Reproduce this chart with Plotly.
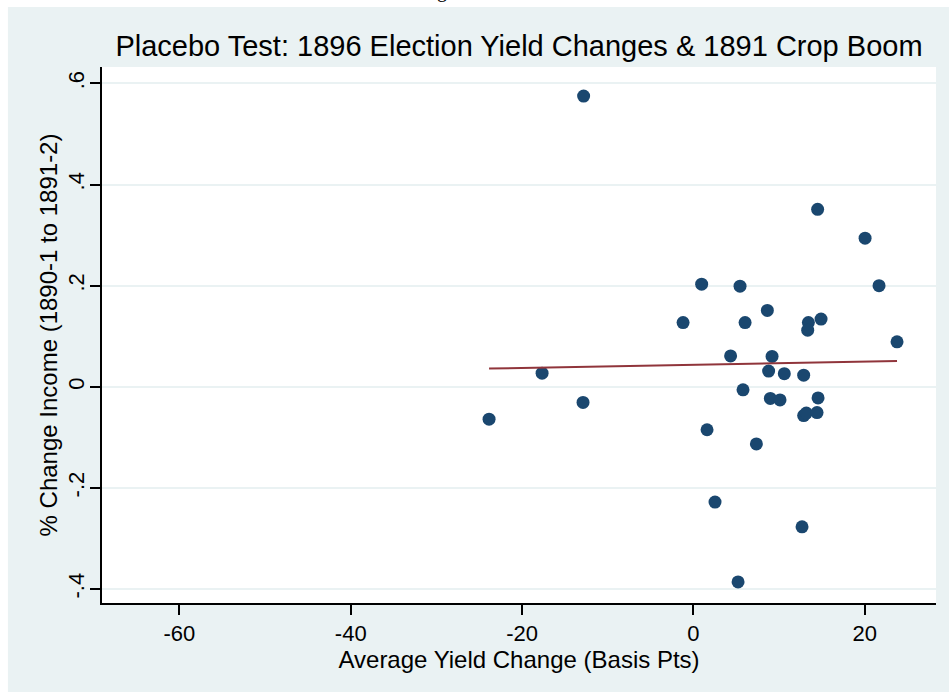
import plotly.graph_objects as go

# Average yield change (basis points) and % change in income, one point per state
yield_change = [
    -12.81, 14.51, 20.05, 0.97, 5.45, 21.68, 8.64, -1.20, 6.04, 13.43, 14.91,
    13.35, 23.78, 4.35, 9.19, -17.66, 8.79, 10.62, 12.88, -12.88, 5.80, 8.99,
    10.12, 14.56, -23.85, 12.88, 13.19, 14.44, 1.60, 7.36, 2.53, 12.69, 5.22,
]
income_change = [
    0.575, 0.351, 0.294, 0.203, 0.199, 0.200, 0.151, 0.127, 0.127, 0.127, 0.134,
    0.112, 0.089, 0.061, 0.060, 0.027, 0.031, 0.026, 0.023, -0.031, -0.006, -0.023,
    -0.026, -0.022, -0.064, -0.057, -0.052, -0.051, -0.085, -0.113, -0.228, -0.277, -0.386,
]

# Linear fit drawn across the observed x range
fit_x = [-23.85, 23.78]
fit_y = [0.036, 0.051]

x_ticks = [-60, -40, -20, 0, 20]
x_tick_labels = ["-60", "-40", "-20", "0", "20"]
y_ticks = [-0.4, -0.2, 0, 0.2, 0.4, 0.6]
y_tick_labels = ["-.4", "-.2", "0", ".2", ".4", ".6"]

TITLE = "Placebo Test: 1896 Election Yield Changes & 1891 Crop Boom"
X_TITLE = "Average Yield Change (Basis Pts)"
Y_TITLE = "% Change Income (1890-1 to 1891-2)"

FONT = "Liberation Sans, Arial, sans-serif"
BG = "#EAF2F3"
NAVY = "#1A476F"
MAROON = "#90353B"

fig = go.Figure()
fig.add_trace(go.Scatter(
    x=yield_change, y=income_change, mode="markers",
    marker=dict(color=NAVY, size=13, line=dict(width=0)),
    showlegend=False, hoverinfo="x+y",
))
fig.add_trace(go.Scatter(
    x=fit_x, y=fit_y, mode="lines",
    line=dict(color=MAROON, width=2),
    showlegend=False, hoverinfo="skip",
))

fig.update_layout(
    width=949, height=692,
    margin=dict(l=102, r=13, t=67, b=89),
    paper_bgcolor=BG,
    plot_bgcolor="white",
    font=dict(family=FONT, color="black"),
    title=dict(text=TITLE, x=0.5, xref="paper", xanchor="center",
               y=1 - 46 / 692, yref="container", yanchor="middle",
               font=dict(size=29, family=FONT, color="black")),
    xaxis=dict(
        range=[-69.04, 28.33], tickvals=x_ticks, ticktext=x_tick_labels,
        ticks="outside", ticklen=10, tickwidth=1.5, tickcolor="black",
        showline=True, linecolor="black", linewidth=1.5,
        showgrid=False, zeroline=False,
        tickfont=dict(size=22, family=FONT, color="black"),
        title=dict(text=X_TITLE, font=dict(size=24, family=FONT, color="black"), standoff=4),
    ),
    yaxis=dict(
        range=[-0.4277, 0.6326], tickvals=y_ticks, ticktext=y_tick_labels,
        tickangle=-90, ticklabelstandoff=-3,
        ticks="outside", ticklen=10, tickwidth=1.5, tickcolor="black",
        showline=True, linecolor="black", linewidth=1.5,
        showgrid=True, gridcolor=BG, gridwidth=1.5, zeroline=False,
        tickfont=dict(size=22, family=FONT, color="black"),
        title=dict(text=Y_TITLE, font=dict(size=24, family=FONT, color="black"), standoff=0),
    ),
    shapes=[
        # white page strip along the top and left edges
        dict(type="rect", xref="paper", yref="paper", x0=-0.2, x1=1.1, y0=1.112, y1=1.4,
             fillcolor="white", line=dict(width=0), layer="above"),
        dict(type="rect", xref="paper", yref="paper", x0=-0.2, x1=-0.1128, y0=-0.3, y1=1.4,
             fillcolor="white", line=dict(width=0), layer="above"),
    ],
    annotations=[
        dict(text="g", xref="paper", yref="paper", x=(442 - 102) / 833.7, y=1.142,
             xanchor="center", yanchor="middle", showarrow=False,
             font=dict(size=20, family="Liberation Serif, Times New Roman, serif", color="black")),
    ],
)

fig.write_html("out.html")
